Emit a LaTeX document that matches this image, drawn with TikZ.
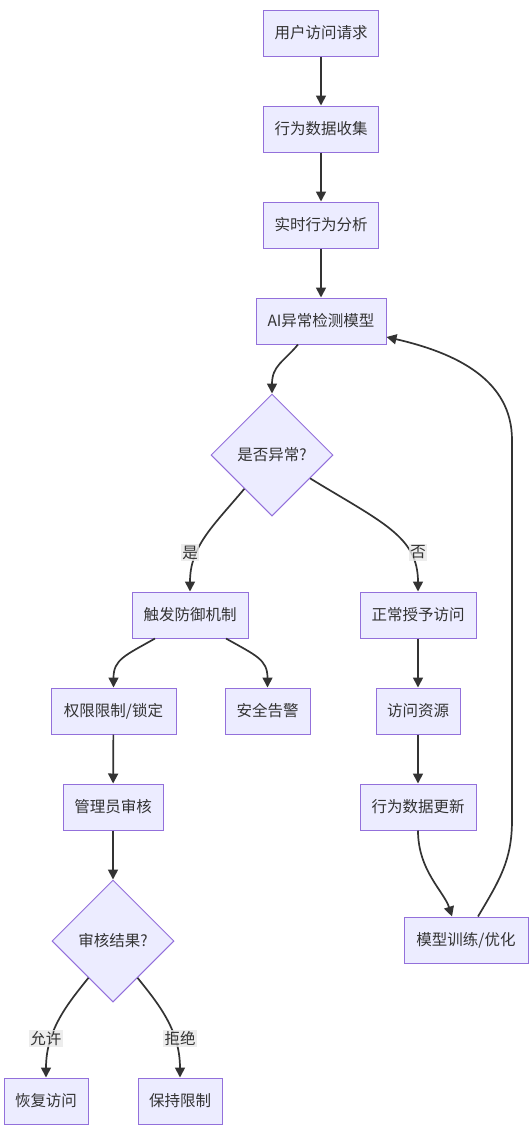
\documentclass[tikz,border=0pt]{standalone}
\usepackage{fontspec}
\newfontfamily\cjk{Noto Sans CJK SC}
\usetikzlibrary{shapes.geometric,arrows.meta,calc}
\definecolor{nodefill}{HTML}{ECECFF}
\definecolor{nodeline}{HTML}{9370DB}
\definecolor{edgecol}{HTML}{333333}
\definecolor{lblfill}{HTML}{E8E8E8}
\tikzset{
  box/.style={draw=nodeline, fill=nodefill, line width=1pt, minimum height=46pt, inner xsep=4pt, inner ysep=0pt, text=edgecol, font=\cjk\fontsize{15.5}{18}\selectfont},
  dia/.style={diamond, aspect=1, draw=nodeline, fill=nodefill, line width=1pt, minimum width=122pt, minimum height=122pt, inner sep=0pt, text=edgecol, font=\cjk\fontsize{15.5}{18}\selectfont},
  edge/.style={draw=edgecol, line width=1.7pt, -{Triangle[length=10pt,width=10pt]}},
  lbl/.style={fill=lblfill, fill opacity=0.8, text opacity=1, text=edgecol, inner sep=1.5pt, font=\cjk\fontsize{15.5}{18}\selectfont},
}
\begin{document}
\begin{tikzpicture}[x=1pt,y=-1pt]
\useasboundingbox (0,0) rectangle (532,1130);
\node[box, minimum width=115pt] (n1) at (321,33) {用户访问请求};
\node[box, minimum width=115pt] (n2) at (321,129) {行为数据收集};
\node[box, minimum width=115pt] (n3) at (321,225) {实时行为分析};
\node[box, minimum width=130pt] (n4) at (321,321) {AI异常检测模型};
\node[dia] (d1) at (272,455) {是否异常?};
\node[box, minimum width=116pt] (n5) at (190,615) {触发防御机制};
\node[box, minimum width=116pt] (n6) at (418,615) {正常授予访问};
\node[box, minimum width=125pt] (n7) at (113.5,711) {权限限制/锁定};
\node[box, minimum width=85pt] (n8) at (267.5,711) {安全告警};
\node[box, minimum width=84pt] (n9) at (418,711) {访问资源};
\node[box, minimum width=100pt] (n10) at (113,807) {管理员审核};
\node[box, minimum width=116pt] (n11) at (418,807) {行为数据更新};
\node[dia] (d2) at (113,941) {审核结果?};
\node[box, minimum width=124pt] (n12) at (466,940) {模型训练/优化};
\node[box, minimum width=84pt] (n13) at (46,1101) {恢复访问};
\node[box, minimum width=84pt] (n14) at (180,1101) {保持限制};

\draw[edge] (n1) -- (n2);
\draw[edge] (n2) -- (n3);
\draw[edge] (n3) -- (n4);
\draw[edge] ([xshift=-23pt]n4.south) .. controls +(-14,17) and +(0,-28) .. (d1.north);
\draw[edge] ($(d1.west)!0.55!(d1.south)$) .. controls +(-32,38) and +(0,-45) .. (n5.north) node[lbl] at ([yshift=39pt]n5.north) {是};
\draw[edge] ($(d1.east)!0.38!(d1.south)$) .. controls +(72,44) and +(0,-55) .. (n6.north) node[lbl] at ([yshift=39pt]n6.north) {否};
\draw[edge] ([xshift=-35pt]n5.south) .. controls +(-30,17) and +(0,-28) .. (n7.north);
\draw[edge] ([xshift=36pt]n5.south) .. controls +(30,17) and +(0,-28) .. (n8.north);
\draw[edge] (n6) -- (n9);
\draw[edge] (n9) -- (n11);
\draw[edge] (n7) -- (n10);
\draw[edge] (n10) -- (d2);
\draw[edge] ($(d2.west)!0.6!(d2.south)$) .. controls +(-20,25) and +(0,-48) .. (n13.north) node[lbl] at ([yshift=39pt]n13.north) {允许};
\draw[edge] ($(d2.east)!0.6!(d2.south)$) .. controls +(20,25) and +(0,-48) .. (n14.north) node[lbl] at ([yshift=39pt]n14.north) {拒绝};
\draw[edge] (n11.south) .. controls +(0,40) and +(-8,-25) .. ([xshift=-14pt]n12.north);
\coordinate (r1) at (512,820);
\coordinate (r2) at (512,440);
\draw[edge] ([xshift=12pt]n12.north) .. controls +(22,-37) and +(0,40) .. (r1) -- (r2) .. controls +(0,-60) and +(70,16) .. ([yshift=-16pt]n4.east);
\end{tikzpicture}
\end{document}
